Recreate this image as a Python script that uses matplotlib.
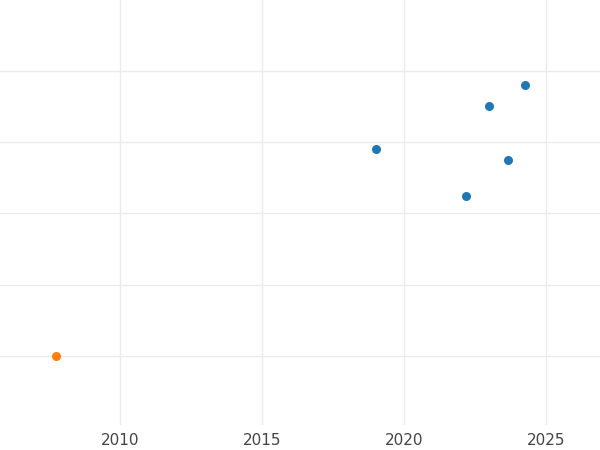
import matplotlib
matplotlib.use("Agg")
import matplotlib.pyplot as plt

blue_x = [2019.01, 2022.18, 2022.99, 2023.66, 2024.26]
blue_y = [3.91, 3.25, 4.51, 3.75, 4.80]
orange_x = [2007.75]
orange_y = [0.99]
xticks = [2010, 2015, 2020, 2025]

fig = plt.figure(figsize=(6, 4.5), dpi=100)
ax = fig.add_axes([0, 0.056, 1, 0.944])
ax.set_xlim(2005.77, 2026.9)
ax.set_ylim(0.03, 6.0)
ax.set_xticks(xticks)
ax.set_yticks([1, 2, 3, 4, 5])
ax.set_yticklabels([])
ax.grid(True, color="#ebebeb", linewidth=1)
ax.set_axisbelow(True)
for s in ax.spines.values():
    s.set_visible(False)
ax.tick_params(length=0, labelsize=11, labelcolor="#444444", pad=6)
ax.scatter(blue_x, blue_y, color="#1f77b4", s=30, zorder=3)
ax.scatter(orange_x, orange_y, color="#ff7f0e", s=30, zorder=3)
fig.savefig("out.png", dpi=100)
